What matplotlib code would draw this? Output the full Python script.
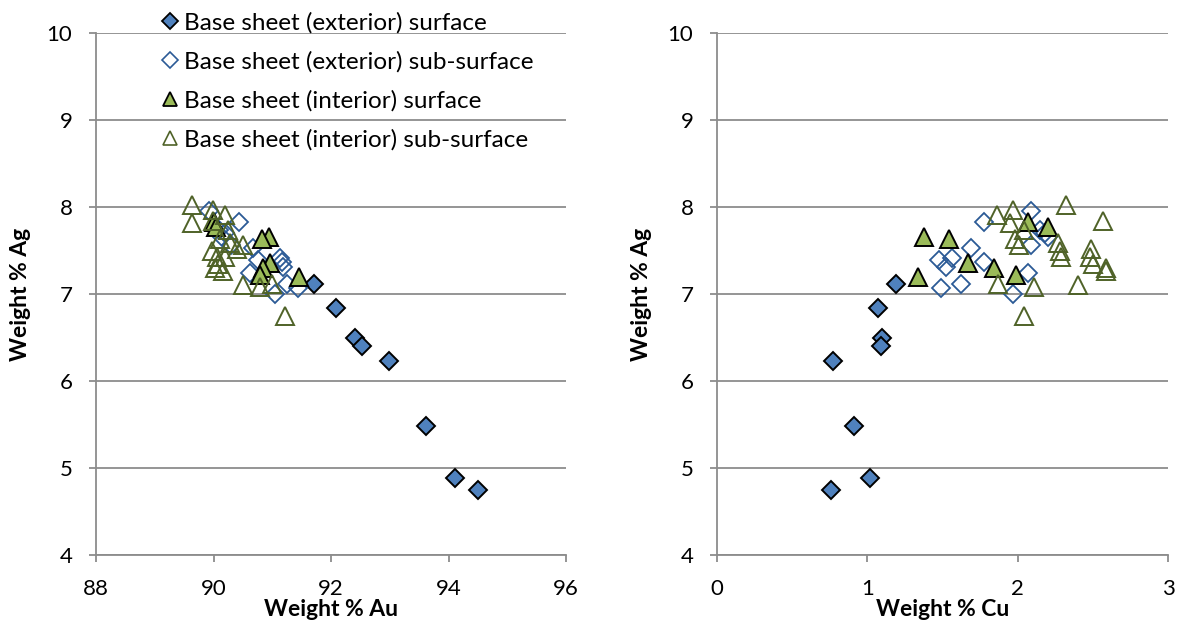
import matplotlib
matplotlib.use("Agg")
import matplotlib.pyplot as plt
from matplotlib.lines import Line2D

plt.rcParams['font.family'] = ['Lato', 'DejaVu Sans']

# ---------------- data ----------------
series_names = [
    "Base sheet (exterior) surface",
    "Base sheet (exterior) sub-surface",
    "Base sheet (interior) surface",
    "Base sheet (interior) sub-surface",
]

# exterior surface
ext_surf_au = [91.71, 92.09, 92.41, 92.52, 92.99, 93.61, 94.11, 94.51]
ext_surf_ag = [7.11, 6.84, 6.50, 6.40, 6.23, 5.48, 4.88, 4.75]
ext_surf_cu = [1.19, 1.07, 1.10, 1.09, 0.77, 0.91, 1.02, 0.76]

# exterior sub-surface
ext_sub_au = [89.92, 90.43, 90.10, 90.20, 90.15, 90.30, 90.67, 91.13, 90.76, 91.16, 91.18, 90.62, 91.25, 91.44, 91.05]
ext_sub_ag = [7.95, 7.83, 7.74, 7.70, 7.66, 7.56, 7.53, 7.41, 7.39, 7.37, 7.31, 7.24, 7.11, 7.07, 7.00]
ext_sub_cu = [2.09, 1.775, 2.15, 2.18, 2.20, 2.09, 1.69, 1.56, 1.48, 1.775, 1.52, 2.07, 1.62, 1.49, 1.97]

# interior surface
int_surf_au = [90.00, 90.05, 90.95, 90.83, 90.96, 90.85, 90.79, 91.46]
int_surf_ag = [7.83, 7.77, 7.66, 7.63, 7.36, 7.30, 7.22, 7.19]
int_surf_cu = [2.07, 2.20, 1.38, 1.54, 1.67, 1.84, 1.99, 1.34]

# interior sub-surface
int_sub_au = [89.63, 89.99, 90.20, 89.99, 89.63, 90.25, 90.11, 90.28, 90.50, 90.40,
              89.97, 90.06, 90.20, 90.08, 90.03, 90.16, 91.00, 90.50, 90.79, 91.22]
int_sub_ag = [8.02, 7.96, 7.91, 7.84, 7.82, 7.74, 7.63, 7.59, 7.56, 7.52,
              7.50, 7.42, 7.42, 7.34, 7.30, 7.27, 7.12, 7.10, 7.08, 6.75]
int_sub_cu = [2.32, 1.97, 1.86, 2.57, 1.95, 2.04, 1.98, 2.27, 2.01, 2.49,
              2.28, 2.29, 2.48, 2.50, 2.59, 2.59, 1.87, 2.40, 2.11, 2.04]

au_ticks = [88, 90, 92, 94, 96]
cu_ticks = [0, 1, 2, 3]
ag_ticks = [4, 5, 6, 7, 8, 9, 10]

# ---------------- styles ----------------
styles = [
    dict(marker='D', ms=9.6, mfc='#4F81BD', mec='black', mew=1.4),
    dict(marker='D', ms=9.6, mfc='none', mec='#2B5A96', mew=1.3),
    dict(marker='^', ms=12.5, mfc='#9BBB59', mec='black', mew=1.4),
    dict(marker='^', ms=12.5, mfc='none', mec='#4F6228', mew=1.4),
]

fig = plt.figure(figsize=(11.84, 6.28), dpi=100)
axL = fig.add_axes([96/1184, 1-555/628, 470/1184, 522/628])
axR = fig.add_axes([717/1184, 1-555/628, 451/1184, 522/628])

left_data = [(ext_surf_au, ext_surf_ag), (ext_sub_au, ext_sub_ag),
             (int_surf_au, int_surf_ag), (int_sub_au, int_sub_ag)]
right_data = [(ext_surf_cu, ext_surf_ag), (ext_sub_cu, ext_sub_ag),
              (int_surf_cu, int_surf_ag), (int_sub_cu, int_sub_ag)]

grid_c = '#8C8C8C'
for ax, data, xt, xlabel in [(axL, left_data, au_ticks, 'Weight % Au'),
                             (axR, right_data, cu_ticks, 'Weight % Cu')]:
    for i, ((x, y), st) in enumerate(zip(data, styles)):
        ax.plot(x, y, linestyle='none', zorder=3 + i, **st)
    ax.set_xlim(xt[0], xt[-1])
    ax.set_ylim(ag_ticks[0], ag_ticks[-1])
    ax.set_xticks(xt)
    ax.set_yticks(ag_ticks)
    ax.yaxis.grid(True, color=grid_c, linewidth=1.3)
    ax.set_axisbelow(True)
    for s in ['top', 'right']:
        ax.spines[s].set_visible(False)
    for s in ['left', 'bottom']:
        ax.spines[s].set_color(grid_c)
        ax.spines[s].set_linewidth(1.3)
    ax.tick_params(axis='both', direction='out', length=5, width=1.3, color=grid_c,
                   labelsize=16)
    ax.tick_params(axis='x', pad=12)
    ax.tick_params(axis='y', pad=12)
    ax.set_xlabel(xlabel, fontsize=16.5, fontweight='bold', labelpad=0)
    ax.set_ylabel('Weight % Ag', fontsize=16.5, fontweight='bold', labelpad=11)

# legend
handles = []
leg_styles = [
    dict(marker='D', ms=8, mfc='#4F81BD', mec='black', mew=1.3),
    dict(marker='D', ms=8, mfc='none', mec='#2B5A96', mew=1.2),
    dict(marker='^', ms=10.5, mfc='#9BBB59', mec='black', mew=1.3),
    dict(marker='^', ms=10.5, mfc='none', mec='#4F6228', mew=1.2),
]
for name, st in zip(series_names, leg_styles):
    handles.append(Line2D([], [], linestyle='none', label=name, **st))
fig.legend(handles=handles, loc='upper left', bbox_to_anchor=(148/1184, 1-2/628),
           frameon=False, fontsize=17.5, handletextpad=0.1, labelspacing=0.72,
           borderaxespad=0, handlelength=1.0)

fig.savefig('out.png', dpi=100)
